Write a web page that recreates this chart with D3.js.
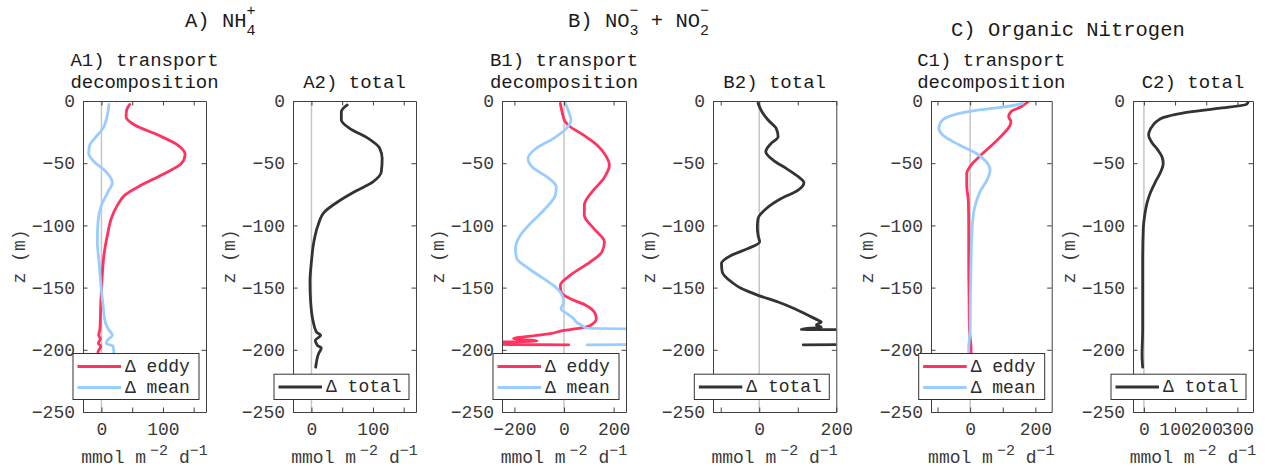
<!DOCTYPE html>
<html>
<head>
<meta charset="utf-8">
<script src="https://cdn.jsdelivr.net/npm/d3@7"></script>
<style>
  body { margin: 0; background: #fff; }
  svg { display: block; font-family: "Liberation Mono", "Courier New", monospace; }
  .axis .domain { stroke: #404040; stroke-width: 1; }
  .axis .tick line { stroke: #404040; stroke-width: 1; }
  .axis .tick text { fill: #3a3a3a; font-size: 18px; font-family: "Liberation Mono", "Courier New", monospace; }
</style>
</head>
<body>
<svg id="fig" width="1265" height="469"></svg>
<script>
// Depth axis (m)
const depthTicks = [-250, -200, -150, -100, -50, 0];

// Profiles as [depth (m), flux change (mmol m^-2 d^-1)]
// A) NH4+
const nh4Eddy = [[-2.7,46],[-7.2,41],[-12.6,40],[-19.3,54],[-27.4,92],[-35.4,124],[-43,136],[-50.2,130],[-59.6,97],[-67.6,65],[-75.7,38],[-83.7,26],[-94.5,16],[-107.9,9.6],[-124,4],[-142.8,1],[-161.6,-1],[-183,-2.4],[-188.4,-4.5],[-191,-2],[-195,-5],[-197,-1],[-201.8,-5.6],[-207,-6],[-213,-6]];
const nh4Mean = [[-2.7,12.3],[-11.3,9.6],[-22,2.5],[-30,-11],[-35.4,-19],[-42,-20.8],[-48.8,-12],[-55.6,5],[-65.5,17.7],[-73,10.7],[-83.7,0],[-97,-5.6],[-113,-6.7],[-129,-4],[-145.5,-1.3],[-161.6,2],[-177.7,6.3],[-183,10.7],[-188.4,17.7],[-192.4,9.6],[-195,8],[-197,19],[-201.8,20],[-207,19],[-213,18]];
const nh4Total = [[-3.2,58.3],[-8.6,48.6],[-15.3,48.6],[-22,62],[-30,92],[-38,111],[-46.2,115],[-57,113.6],[-65,100],[-73,70],[-81,43],[-89,21.5],[-99.8,10.7],[-113,4],[-129,0],[-145.5,-2.4],[-161.6,-1.3],[-177.7,3],[-185.7,8],[-188.4,15],[-192.4,6.3],[-196.5,9.6],[-198.6,16],[-203,11.7],[-214,6.9]];

// B) NO3- + NO2-
const no3Eddy = [[-1.9,-14.8],[-8.6,-8],[-16.6,5],[-20.7,25.5],[-27.4,79],[-35.4,133],[-43.5,167],[-51.5,183],[-62.3,160],[-73,113],[-83.7,82],[-91.8,82],[-102.5,120],[-113.3,163],[-121.3,153],[-129.4,106],[-140,25.5],[-148,-14.8],[-153.5,-12],[-159,25.5],[-164,86],[-171,126],[-175,130],[-180.4,106],[-183,52],[-184.4,-1],[-187,-55],[-189,-136],[-191,-203],[-193,-109],[-195.2,-700],[-196,19]];
const no3Mean = [[-1.9,5.4],[-8.6,19],[-15.3,28],[-22,9.4],[-30,-42],[-38,-112],[-46.2,-145],[-52.9,-129],[-61,-69],[-69,-31],[-75.7,-35],[-86.4,-75],[-97.2,-129],[-108,-176],[-118.6,-196],[-126.7,-190],[-134.7,-142],[-142.8,-82],[-150.8,-28],[-156,-8],[-161.6,-1],[-167,-12],[-171,12],[-175,39],[-177.7,50],[-180.4,72],[-182.5,90],[-184.5,700],[-195.2,700],[-196,93]];
const no3Total = [[-1.9,-3],[-8.6,7],[-15.3,23],[-22,44],[-28.7,49],[-34,31],[-40.8,17],[-47.5,36],[-54.2,70],[-61,102],[-65.5,116],[-71.7,101],[-78.4,57],[-86.4,18.5],[-94.5,-3],[-101,-5],[-108,-3],[-113.3,1],[-118.6,-29],[-124,-72],[-130.7,-98],[-137.4,-96],[-145.5,-72],[-150.8,-46],[-156.2,-3],[-161.6,49],[-167,92],[-172.3,127],[-176.3,153],[-177.7,161],[-180,148],[-181.7,161],[-183.6,109],[-184.4,500],[-195.2,500],[-196,114]];

// C) Organic nitrogen
const orgEddy = [[-1,176],[-4.6,156],[-8.6,125],[-12.6,118],[-16.6,125],[-20.7,120],[-27.4,98],[-35.4,67],[-43.5,33],[-51.5,3],[-58.2,-10.5],[-67.6,-10.5],[-81,-5.4],[-102.5,-4.4],[-129.4,-4.4],[-156,-3.4],[-183,-2.4],[-199,2.8],[-213,2]];
const orgMean = [[-1.9,161],[-4.6,110],[-7.2,28],[-11.3,-53],[-16.6,-89],[-22,-96],[-27.4,-84],[-35.4,-33],[-42,18],[-48.8,49],[-55.6,61],[-62.3,54],[-73,30],[-86.4,13],[-102.5,6],[-129.4,2.8],[-156,0.7],[-183,0],[-199,-4.4],[-213,-4]];
const orgTotal = [[-1,334],[-2.7,329],[-5.9,238],[-9.9,120],[-13.4,61],[-16.6,40],[-22,22],[-27.4,15],[-32.7,24],[-39.5,45],[-44.8,58],[-50.2,62],[-56.9,54],[-65,37],[-73,22],[-81,11],[-91.8,2.5],[-102.5,-2],[-129.4,-4],[-156,-4],[-183,-4],[-204.5,-6],[-214,-4]];

// x ticks and which of them carry a label
const ticksA = [0, 50, 100, 150], labelsA = [0, 100];
const ticksB1 = [-200, 0, 200], labelsB1 = [-200, 0, 200];
const ticksB2 = [-100, 0, 100, 200], labelsB2 = [0, 200];
const ticksC1 = [-100, 0, 100, 200], labelsC1 = [0, 200];
const ticksC2 = [0, 100, 200, 300], labelsC2 = [0, 100, 200, 300];

const seriesColor = { eddy: "#ff3360", mean: "#99ccff", total: "#333333" };
const seriesName = { eddy: "eddy", mean: "mean", total: "total" };

const yTop = 101, yBottom = 412;
const y = d3.scaleLinear().domain([-250, 0]).range([yBottom, yTop]);

const panels = [
  { id: "A1", left: 83,  right: 206,   xDomain: [-30, 170],  ticks: ticksA,  labels: labelsA,
    title: ["A1) transport", "decomposition"], series: [["eddy", nh4Eddy], ["mean", nh4Mean]] },
  { id: "A2", left: 293, right: 416,   xDomain: [-30, 170],  ticks: ticksA,  labels: labelsA,
    title: ["A2) total"], series: [["total", nh4Total]] },
  { id: "B1", left: 502, right: 626,   xDomain: [-250, 250], ticks: ticksB1, labels: labelsB1,
    title: ["B1) transport", "decomposition"], series: [["eddy", no3Eddy], ["mean", no3Mean]] },
  { id: "B2", left: 713, right: 836.3, xDomain: [-120, 200], ticks: ticksB2, labels: labelsB2,
    title: ["B2) total"], series: [["total", no3Total]] },
  { id: "C1", left: 931, right: 1051.7, xDomain: [-120, 250], ticks: ticksC1, labels: labelsC1,
    title: ["C1) transport", "decomposition"], series: [["eddy", orgEddy], ["mean", orgMean]] },
  { id: "C2", left: 1133, right: 1253, xDomain: [-35, 350],  ticks: ticksC2, labels: labelsC2,
    title: ["C2) total"], series: [["total", orgTotal]] }
];

const svg = d3.select("#fig");
const defs = svg.append("defs");
const fmt = d3.format("d"); // d3 emits U+2212 for negatives

panels.forEach(p => {
  const x = d3.scaleLinear().domain(p.xDomain).range([p.left, p.right]);
  const g = svg.append("g").attr("class", "panel").attr("id", "panel-" + p.id);

  defs.append("clipPath").attr("id", "clip-" + p.id)
    .append("rect")
    .attr("x", p.left).attr("y", yTop)
    .attr("width", p.right - p.left).attr("height", yBottom - yTop);

  // zero reference line
  g.append("line")
    .attr("x1", x(0)).attr("x2", x(0))
    .attr("y1", yTop).attr("y2", yBottom)
    .attr("stroke", "#c6c6c6").attr("stroke-width", 1.5);

  // profiles
  const line = d3.line()
    .x(d => x(d[1]))
    .y(d => y(d[0]))
    .curve(d3.curveMonotoneY);

  const lines = g.append("g").attr("clip-path", "url(#clip-" + p.id + ")");
  p.series.forEach(([key, data]) => {
    lines.append("path")
      .datum(data)
      .attr("d", line)
      .attr("fill", "none")
      .attr("stroke", seriesColor[key])
      .attr("stroke-width", 2.8)
      .attr("stroke-linejoin", "round")
      .attr("stroke-linecap", "round");
  });

  // axes: labelled bottom/left, tick-only top/right (ticks point inward)
  const tickFmt = v => p.labels.includes(v) ? fmt(v) : "";
  g.append("g").attr("class", "axis")
    .attr("transform", `translate(0,${yBottom})`)
    .call(d3.axisBottom(x).tickValues(p.ticks).tickFormat(tickFmt)
      .tickSize(-4.5).tickSizeOuter(0).tickPadding(10));
  g.append("g").attr("class", "axis")
    .attr("transform", `translate(0,${yTop})`)
    .call(d3.axisTop(x).tickValues(p.ticks).tickFormat("")
      .tickSize(-4.5).tickSizeOuter(0));
  g.append("g").attr("class", "axis")
    .attr("transform", `translate(${p.left},0)`)
    .call(d3.axisLeft(y).tickValues(depthTicks).tickFormat(fmt)
      .tickSize(-4.5).tickSizeOuter(0).tickPadding(8));
  g.append("g").attr("class", "axis")
    .attr("transform", `translate(${p.right},0)`)
    .call(d3.axisRight(y).tickValues(depthTicks).tickFormat("")
      .tickSize(-4.5).tickSizeOuter(0));

  const cx = (p.left + p.right) / 2;

  // panel title
  const tBase = p.title.length === 2 ? [66, 88] : [88];
  p.title.forEach((t, i) => {
    g.append("text")
      .attr("x", cx).attr("y", tBase[i])
      .attr("text-anchor", "middle")
      .attr("font-size", 19).attr("fill", "#1a1a1a")
      .text(t);
  });

  // axis labels
  g.append("text")
    .attr("transform", `translate(${p.left - 63},${(yTop + yBottom) / 2}) rotate(-90)`)
    .attr("text-anchor", "middle")
    .attr("dominant-baseline", "central")
    .attr("font-size", 18).attr("fill", "#3a3a3a")
    .text("z (m)");

  const xl = g.append("text")
    .attr("x", cx).attr("y", 463)
    .attr("text-anchor", "middle")
    .attr("font-size", 18).attr("fill", "#3a3a3a");
  xl.append("tspan").text("mmol m");
  xl.append("tspan").attr("dx", 4).attr("dy", -8).attr("font-size", 15).text("\u22122");
  xl.append("tspan").attr("dy", 8).text(" d");
  xl.append("tspan").attr("dy", -8).attr("font-size", 15).text("\u22121");

  // legend
  const keys = p.series.map(s => s[0]);
  const two = keys.length === 2;
  const lw = two ? 126 : 135;
  const lh = two ? 46 : 25.3;
  const lx = p.right - 7 - lw;
  const ly = yBottom - 12.5 - lh;
  const lg = g.append("g").attr("class", "legend");
  lg.append("rect")
    .attr("x", lx).attr("y", ly).attr("width", lw).attr("height", lh)
    .attr("fill", "#fff").attr("stroke", "#333").attr("stroke-width", 1);
  keys.forEach((k, i) => {
    const ey = ly + (two ? 13 + 21 * i : 12.7);
    lg.append("line")
      .attr("x1", lx + 4.5).attr("x2", lx + 48)
      .attr("y1", ey).attr("y2", ey)
      .attr("stroke", seriesColor[k]).attr("stroke-width", 3);
    lg.append("text")
      .attr("x", lx + 52).attr("y", ey + 5.5)
      .attr("font-size", 18).attr("fill", "#2a2a2a")
      .text("\u0394 " + seriesName[k]);
  });
});

// group titles with chemical notation (stacked sub/superscripts)
const groupFont = 20.5, scriptFont = 15;
function addScripts(t, sub, sup) {
  t.append("tspan").attr("dy", 8).attr("font-size", scriptFont).text(sub);
  t.append("tspan").attr("dx", -scriptFont * 0.6).attr("dy", -20).attr("font-size", scriptFont).text(sup);
}

const tA = svg.append("text").attr("x", 185).attr("y", 27)
  .attr("font-size", groupFont).attr("fill", "#1a1a1a");
tA.append("tspan").text("A) NH");
addScripts(tA, "4", "+");

const tB = svg.append("text").attr("x", 568).attr("y", 27)
  .attr("font-size", groupFont).attr("fill", "#1a1a1a");
tB.append("tspan").text("B) NO");
addScripts(tB, "3", "\u2212");
tB.append("tspan").attr("dy", 12).text(" + NO");
addScripts(tB, "2", "\u2212");

svg.append("text").attr("x", 951).attr("y", 35.5)
  .attr("font-size", groupFont).attr("fill", "#1a1a1a")
  .text("C) Organic Nitrogen");
</script>
</body>
</html>
